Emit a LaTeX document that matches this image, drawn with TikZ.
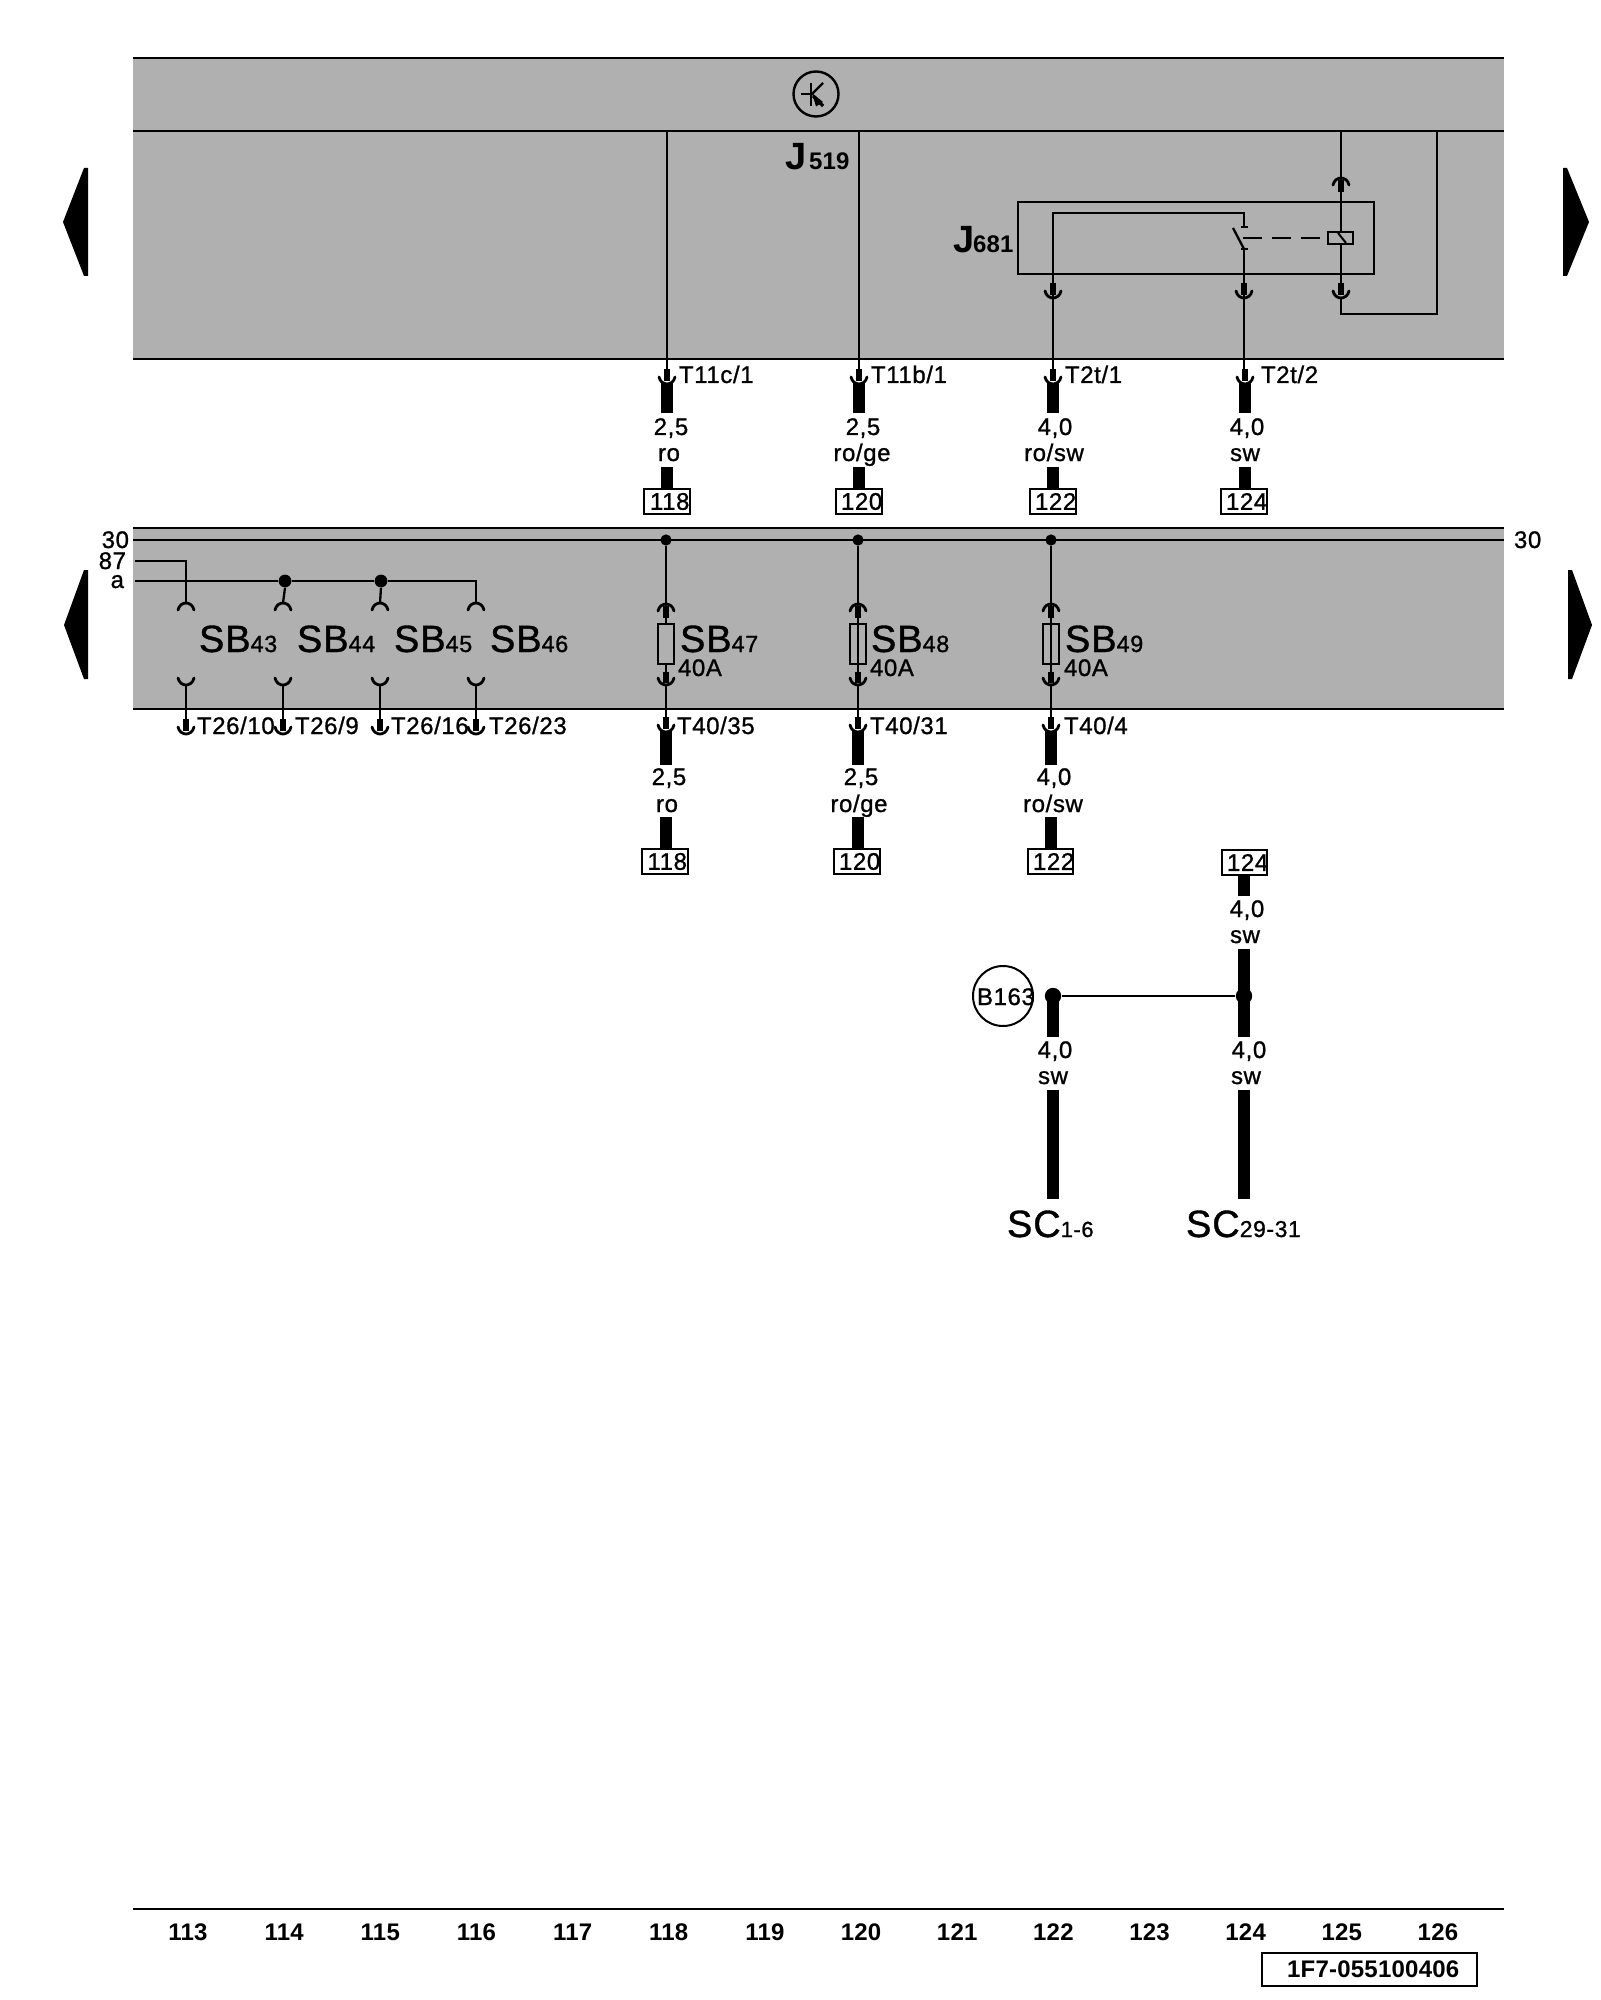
\documentclass[tikz,border=0pt]{standalone}
\usepackage{fontspec}
\setmainfont[FakeBold=1,LetterSpace=2.5]{Liberation Sans}
\newfontfamily\heavy[LetterSpace=1]{Liberation Sans Bold}
\usetikzlibrary{calc}
\definecolor{bandgray}{RGB}{176,176,176}
\newcommand\fsz[1]{\fontsize{#1}{#1}\selectfont}
\tikzset{
  txt/.style={inner sep=0pt,outer sep=0pt,anchor=base west,font=\fsz{12}},
  txtc/.style={txt,anchor=base},
  txte/.style={txt,anchor=base east},
  bigtxt/.style={txt,font=\fsz{19}},
  heavytxt/.style={txtc,font=\heavy\fsz{12}},
  wire/.style={line width=1.15pt,black},
  rail/.style={line width=1.2pt,black},
  stub/.style={line width=2.6pt,black},
  harness/.style={line width=5.8pt,black},
  cupline/.style={line width=1.4pt,black,line cap=round},
  gapline/.style={line width=0.9pt,white},
  thin/.style={line width=1pt,black},
  busdot/.style={circle,fill=black,inner sep=0pt,minimum size=5.6pt},
  bigdot/.style={circle,fill=black,inner sep=0pt,minimum size=8.2pt},
  refbox/.style={draw=black,line width=1pt,fill=white,inner sep=0pt,minimum height=12.5pt,font=\fsz{12},anchor=north},
  fusebox/.style={draw=black,line width=0.8pt,inner sep=0pt,minimum width=8pt,minimum height=20pt},
  arrowfill/.style={fill=black,draw=none}
}
% cup opening upward, y = lowest point
\newcommand\cupd[2]{\draw[cupline] (#1-8,#2-7) .. controls (#1-7,#2-2) and (#1-3,#2) .. (#1,#2) .. controls (#1+3,#2) and (#1+7,#2-2) .. (#1+8,#2-7);}
% cup opening downward, y = highest point
\newcommand\cupu[2]{\draw[cupline] (#1-8,#2+7) .. controls (#1-7,#2+2) and (#1-3,#2) .. (#1,#2) .. controls (#1+3,#2) and (#1+7,#2+2) .. (#1+8,#2+7);}
% connector sitting on a harness: stub, white gap, cup
\newcommand\plugd[2]{\draw[stub] (#1,#2-15) -- (#1,#2-3);\cupd{#1}{#2}}
\newcommand\gapd[2]{\draw[gapline] (#1-5.5,#2-5) .. controls (#1-4,#2-2.4) and (#1-2,#2-2) .. (#1,#2-2) .. controls (#1+2,#2-2) and (#1+4,#2-2.4) .. (#1+5.5,#2-5);}
% id, box width, text offset, centre x, top y, label
\newcommand\hdrop[6]{%
  \node[refbox,minimum width=\dimexpr #2pt/2\relax] (box#1) at (#4,#5) {\makebox[\dimexpr #2pt/2\relax][l]{\hspace*{\dimexpr #3pt/2\relax}#6}};
}
\begin{document}
\begin{tikzpicture}[x=0.5pt,y=-0.5pt]
\useasboundingbox (0,0) rectangle (1600,2000);
\fill[white] (0,0) rectangle (1600,2000);

% ---- bands
\fill[bandgray] (133,58) rectangle (1504,359);
\fill[bandgray] (133,528) rectangle (1504,709);
\coordinate (railAw) at (133,58);  \coordinate (railAe) at (1504,58);
\coordinate (railBw) at (133,131); \coordinate (railBe) at (1504,131);
\coordinate (railCw) at (133,359); \coordinate (railCe) at (1504,359);
\coordinate (railDw) at (133,528); \coordinate (railDe) at (1504,528);
\coordinate (railEw) at (133,540); \coordinate (railEe) at (1504,540);
\coordinate (railFw) at (133,709); \coordinate (railFe) at (1504,709);
\coordinate (railGw) at (133,1909); \coordinate (railGe) at (1504,1909);
\foreach \r in {A,B,C,D,E,F,G} \draw[rail] (rail\r w) -- (rail\r e);

% ---- page arrows
\fill (88,168) -- (84,168) -- (63,222) -- (84,276) -- (88,276) -- cycle;
\fill (88,570) -- (84,570) -- (64,625) -- (84,679) -- (88,679) -- cycle;
\fill (1563,168) -- (1567,168) -- (1589,222) -- (1567,276) -- (1563,276) -- cycle;
\fill (1568,570) -- (1572,570) -- (1592,625) -- (1572,679) -- (1568,679) -- cycle;

% ---- transistor symbol
\node[circle,draw=black,line width=1.2pt,inner sep=0pt,minimum size=22.5pt] (ecu) at (816,94) {};
\draw[wire] (801,94) -- (811,94);
\draw[wire] (811,83) -- (811,106);
\draw[wire] (811,95) -- (823,83);
\draw[wire,line width=1.6pt] (813,96) -- (823,106);
\fill[arrowfill] (812,93) -- (823,102) -- (816,106.5) -- cycle;

% ---- reference boxes
\hdrop{Ua}{46}{6}{667}{488}{118}
\hdrop{Ub}{46}{5}{859}{488}{120}
\hdrop{Uc}{46}{5}{1053}{488}{122}
\hdrop{Ud}{46}{5}{1244}{488}{124}
\hdrop{La}{46}{6}{664.5}{848}{118}
\hdrop{Lb}{46}{5}{857}{848}{120}
\hdrop{Lc}{45}{5}{1050.5}{848}{122}
\hdrop{Rd}{45}{5}{1244.5}{849}{124}

% ---- upper wires
\foreach \n/\x in {Ua/667,Ub/859,Uc/1053,Ud/1245}{
  \coordinate (h\n A) at (\x,380);
  \coordinate (h\n B) at (\x,413);
  \coordinate (h\n C) at (\x,467);
  \draw[harness] (h\n A) -- (h\n B);
  \draw[harness] (h\n C) -- (h\n C |- box\n.north);
  \gapd{\x}{384}
  \plugd{\x}{384}
}
\coordinate (wUaTop) at (667,131); \draw[wire] (wUaTop) -- (667,372);
\coordinate (wUbTop) at (859,131); \draw[wire] (wUbTop) -- (859,372);

% ---- relay J681
\node[draw=black,line width=1.05pt,inner sep=0pt,minimum width=178pt,minimum height=36pt] (relay) at (1196,238) {};
\coordinate (swTop) at (1244,227);
\coordinate (swBot) at (1244,249);
\coordinate (wJt) at (1053,213);
\draw[wire] (1053,372) -- (wJt) -- (1244,213) -- (swTop);
\draw[line width=1.3pt] (1241,227) -- (1248,227);
\draw[line width=1.3pt] (1241,249) -- (1248,249);
\draw[wire] (1233,228) -- (swBot);
\draw[wire] (swBot) -- (1244,372);
% coil wire
\coordinate (wCoilTop) at (1341,131);
\coordinate (wCoilBot) at (1341,285);
\draw[wire] (wCoilTop) -- (wCoilBot);
\node[draw=black,line width=1.15pt,inner sep=0pt,minimum width=12.5pt,minimum height=6pt] (coil) at (1340.5,238) {};
\draw[wire,dash pattern=on 9.5pt off 5pt] (1243,238) -- (coil.west);
\fill[bandgray] (1329,233) rectangle (1352,243);
\draw[thin] (1338,233) -- (1346,243);
\coordinate (loopA) at (1341,314);
\coordinate (loopB) at (1437,314);
\coordinate (loopC) at (1437,131);
\draw[wire] (1341,298) -- (loopA) -- (loopB) -- (loopC);
\draw[stub] (1341,180) -- (1341,192);
\cupu{1341}{178}
\plugd{1053}{298}
\plugd{1244}{298}
\plugd{1341}{298}

% ---- bus 30 / 87 / a
\coordinate (in87) at (135,561);
\coordinate (ina) at (135,581);
\node[bigdot,minimum size=6.4pt] (dotA) at (285,581) {};
\node[bigdot,minimum size=6.4pt] (dotB) at (381,581) {};
\coordinate (pin43) at (186,603);
\coordinate (pin44) at (283,603);
\coordinate (pin45) at (380,603);
\coordinate (pin46) at (476,603);
\draw[wire] (in87) -- (186,561) -- (pin43);
\draw[wire] (ina) -- (dotA) -- (dotB) -- (476,581) -- (pin46);
\draw[wire] (dotA.south) -- (pin44);
\draw[wire] (dotB.south) -- (pin45);
\foreach \x in {186,283,380,476}{
  \cupu{\x}{603}
  \cupd{\x}{685}
  \draw[wire] (\x,685) -- (\x,720);
  \draw[stub] (\x,719) -- (\x,731);
  \cupd{\x}{734}
}

% ---- SB47..49 fused feeds
\node[busdot] (dot47) at (666,540) {};
\node[busdot] (dot48) at (858,540) {};
\node[busdot] (dot49) at (1051,540) {};
\node[fusebox] (fuse47) at (666,644) {};
\node[fusebox] (fuse48) at (858,644) {};
\node[fusebox] (fuse49) at (1051,644) {};
\draw[thin] (fuse48.north) -- (fuse48.south);
\draw[thin] (fuse49.north) -- (fuse49.south);
\foreach \n/\x in {47/666,48/858,49/1051}{
  \draw[wire] (dot\n) -- (\x,606);
  \cupu{\x}{604}
  \draw[stub] (\x,606) -- (\x,618);
  \draw[wire] (\x,618) -- (fuse\n.north);
  \draw[wire] (fuse\n.south) -- (\x,674);
  \draw[stub] (\x,672) -- (\x,683);
  \cupd{\x}{685}
  \draw[wire] (\x,685) -- (\x,720);
}
\foreach \n/\x in {La/666,Lb/858,Lc/1051}{
  \coordinate (h\n A) at (\x,728);
  \coordinate (h\n B) at (\x,765);
  \coordinate (h\n C) at (\x,817);
  \draw[harness] (h\n A) -- (h\n B);
  \draw[harness] (h\n C) -- (h\n C |- box\n.north);
  \gapd{\x}{732}
  \plugd{\x}{732}
}

% ---- splice B163
\node[bigdot] (spL) at (1053,996) {};
\node[bigdot] (spR) at (1244,996) {};
\node[circle,draw=black,line width=1pt,inner sep=0pt,minimum size=30pt] (b163) at (1003,996) {};
\draw[wire] (spL) -- (spR);
\coordinate (SCa) at (1053,1037);
\coordinate (SCb) at (1053,1090);
\coordinate (SCc) at (1053,1199);
\coordinate (SCd) at (1244,949);
\coordinate (SCe) at (1244,1037);
\coordinate (SCf) at (1244,1090);
\coordinate (SCg) at (1244,1199);
\coordinate (SCh) at (1244,896);
\draw[harness] (boxRd.south -| SCh) -- (SCh);
\draw[harness] (SCd) -- (SCe);
\draw[harness] (spL.center) -- (SCa);
\draw[harness] (SCb) -- (SCc);
\draw[harness] (SCf) -- (SCg);

% ---- texts
\node[bigtxt,font=\heavy\fsz{19}] (tJa) at (785,170) {J};
\node[txt,font=\heavy\fsz{12}] (tJas) at (809,170) {519};
\node[bigtxt,font=\heavy\fsz{19}] (tJb) at (953,253) {J};
\node[txt,font=\heavy\fsz{12}] (tJbs) at (973,253) {681};

\node[txt] (t11c) at (679,383) {T11c/1};
\node[txt] (t11b) at (871,383) {T11b/1};
\node[txt] (t2t1) at (1065,383) {T2t/1};
\node[txt] (t2t2) at (1261,383) {T2t/2};

\node[txtc] (a1) at (671,435) {2,5};
\node[txtc] (a2) at (669,461) {ro};
\node[txtc] (b1) at (863,435) {2,5};
\node[txtc] (b2) at (862,461) {ro/ge};
\node[txtc] (c1) at (1055,435) {4,0};
\node[txtc] (c2) at (1054,461) {ro/sw};
\node[txtc] (d1) at (1247,435) {4,0};
\node[txtc] (d2) at (1245,461) {sw};

\node[txte] (l30) at (129,548) {30};
\node[txte] (l87) at (126,569) {87};
\node[txte] (la) at (124,588) {a};
\node[txt] (r30) at (1514,548) {30};

\newcommand\sbt[4]{\node[bigtxt] (#1) at (#2,#3) {SB{\fsz{11.7}#4}};}
\sbt{s43}{199}{652}{43}
\sbt{s44}{297}{652}{44}
\sbt{s45}{394}{652}{45}
\sbt{s46}{490}{652}{46}
\sbt{s47}{680}{652}{47}
\sbt{s48}{871}{652}{48}
\sbt{s49}{1065}{652}{49}
\node[txt] (f47) at (678,676) {40A};
\node[txt] (f48) at (870,676) {40A};
\node[txt] (f49) at (1064,676) {40A};

\node[txt] (t10) at (197,734) {T26/10};
\node[txt] (t9) at (295,734) {T26/9};
\node[txt] (t16) at (391,734) {T26/16};
\node[txt] (t23) at (489,734) {T26/23};
\node[txt] (t35) at (677,734) {T40/35};
\node[txt] (t31) at (870,734) {T40/31};
\node[txt] (t4) at (1064,734) {T40/4};

\node[txtc] (e1) at (669,785) {2,5};
\node[txtc] (e2) at (667,812) {ro};
\node[txtc] (g1) at (861,785) {2,5};
\node[txtc] (g2) at (859,812) {ro/ge};
\node[txtc] (h1) at (1054,785) {4,0};
\node[txtc] (h2) at (1053,812) {ro/sw};

\node[txtc] (m1) at (1247,917) {4,0};
\node[txtc] (m2) at (1245,943) {sw};
\node[txtc] (n1) at (1055,1058) {4,0};
\node[txtc] (n2) at (1053,1084) {sw};
\node[txtc] (o1) at (1249,1058) {4,0};
\node[txtc] (o2) at (1246,1084) {sw};
\node[txt] (tb163) at (977,1005) {B163};
\node[bigtxt] (sc1) at (1007,1237) {SC{\fsz{11}1-6}};
\node[bigtxt] (sc2) at (1186,1237) {SC{\fsz{11.5}29-31}};

% ---- footer
\foreach \i/\lbl in {0/113,1/114,2/115,3/116,4/117,5/118,6/119,7/120,8/121,9/122,10/123,11/124,12/125,13/126}{
  \node[heavytxt] (foot\lbl) at ({188+96.15*\i},1940) {\lbl};
}
\node[draw=black,line width=1.1pt,inner sep=0pt,minimum width=107.5pt,minimum height=16.5pt,anchor=north west] (docbox) at (1261,1952) {};
\node[txt,font=\heavy\fsz{12}] (doc) at (1287,1977) {1F7-055100406};
\end{tikzpicture}
\end{document}
